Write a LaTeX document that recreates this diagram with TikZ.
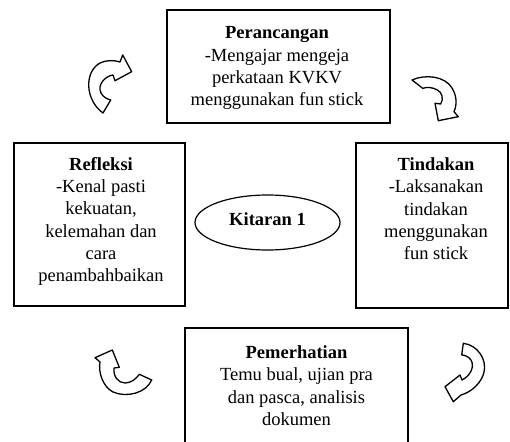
\documentclass[tikz,border=0pt]{standalone}
\usepackage{fontspec}
\setmainfont{Liberation Serif}
\usetikzlibrary{shapes.geometric}
\begin{document}
\begin{tikzpicture}[x=1pt,y=-1pt,
  box/.style={draw=black, line width=1.8pt, inner sep=0pt},
  lbl/.style={align=center, inner sep=0pt, anchor=north, font=\fontsize{18.5}{22.3}\selectfont},
  cyc/.style={draw=black, line width=1.3pt, fill=white, line join=round},
  ]
\clip (0,0) rectangle (510,441);
\fill[white] (0,0) rectangle (510,441);
% boxes
\node[box, minimum width=223pt, minimum height=113pt] (plan) at (278.5,66.5) {};
\node[box, minimum width=171pt, minimum height=163pt] (refl) at (99.5,224.5) {};
\node[box, minimum width=152pt, minimum height=165pt] (act) at (432,225.5) {};
\node[box, minimum width=223pt, minimum height=117pt] (obs) at (296.5,386.5) {};
% texts
\node[lbl] (planT) at (277,26.5) {\textbf{Perancangan}\\-Mengajar mengeja\\perkataan KVKV\\menggunakan fun stick};
\node[lbl] (reflT) at (101,157) {\textbf{Refleksi}\\-Kenal pasti\\kekuatan,\\kelemahan dan\\cara\\penambahbaikan};
\node[lbl] (actT) at (436,157.5) {\textbf{Tindakan}\\-Laksanakan\\tindakan\\menggunakan\\fun stick};
\node[lbl] (obsT) at (296.5,345.5) {\textbf{Pemerhatian}\\Temu bual, ujian pra\\dan pasca, analisis\\dokumen};
% centre ellipse
\node[draw=black, ellipse, line width=1.2pt, minimum width=145pt, minimum height=55pt, inner sep=0pt, text depth=7.5pt, font=\bfseries\fontsize{18.5}{22}\selectfont] (cyc1) at (267.5,222.5) {Kitaran 1};
% cycle arrows
\draw[cyc] (103,113) .. controls (85,100) and (84,72) .. (100,63)
  .. controls (106,60) and (114,60) .. (120,62) -- (122.7,55) -- (131.7,71.7)
  -- (115,80.7) -- (113,75) .. controls (105,76) and (97,85) .. (101,93)
  .. controls (103,97) and (107,99) .. (110.7,100) -- cycle;
\draw[cyc] (412,80) .. controls (425,74) and (445,76) .. (452,88)
  .. controls (457,96) and (457,105) .. (454,111.7) -- (458.3,116.7) -- (438.3,120.7)
  -- (435,103.3) -- (440.7,104) .. controls (444,99) and (442,92) .. (437.3,90)
  .. controls (432,87) and (427,87) .. (422.7,88.3) -- cycle;
\draw[cyc] (151.7,380) .. controls (146,393) and (127,398) .. (113,392)
  .. controls (103,387) and (98,372) .. (100,362) -- (95,357.7) -- (112.3,350)
  -- (119.3,367.3) -- (114,368) .. controls (113,376) and (118,383) .. (125,383)
  .. controls (131,383) and (136,379) .. (139.3,374.3) -- cycle;
\draw[cyc] (463.3,343.3) .. controls (478,345) and (487,360) .. (484,372)
  .. controls (482,382) and (472,392) .. (461,395) -- (453.3,401.7) -- (445,386.7)
  -- (460,375) -- (462,380) .. controls (470,376) and (475,367) .. (471,360)
  .. controls (469,357) and (465,355) .. (461.7,355) -- cycle;
\end{tikzpicture}
\end{document}
